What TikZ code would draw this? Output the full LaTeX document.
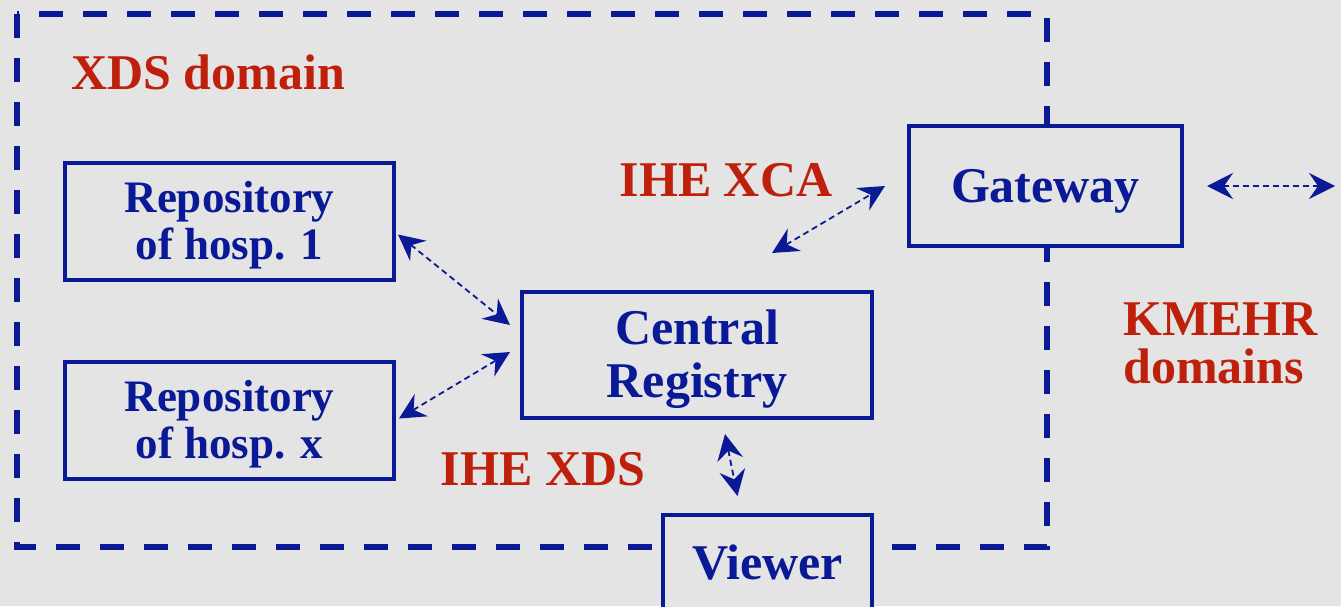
\documentclass[tikz,border=0pt]{standalone}
\usepackage{fontspec}
\setmainfont{Liberation Serif}
\usetikzlibrary{positioning,arrows.meta,calc}
\definecolor{palBlue}{HTML}{0A1A96}
\definecolor{palRed}{HTML}{BE200C}
\definecolor{palBack}{HTML}{E4E4E4}
\tikzset{
  sysbox/.style={draw=palBlue, fill=palBack, line width=4pt, text=palBlue,
                 align=center, inner sep=0pt,
                 font=\bfseries\fontsize{50}{53}\selectfont},
  repobox/.style={sysbox, minimum width=329pt, minimum height=117pt,
                  text depth=1.5pt, font=\bfseries\fontsize{45}{47}\selectfont},
  domlabel/.style={text=palRed, align=left,
                   font=\bfseries\fontsize{50}{48}\selectfont},
  domainframe/.style={draw=palBlue, line width=6pt,
                      dash pattern=on 24pt off 20pt},
  msgarrow/.style={{Stealth[length=26pt,width=26pt,inset=9pt]}-{Stealth[length=26pt,width=26pt,inset=9pt]},
                   palBlue, line width=1.8pt, dash pattern=on 6pt off 4pt},
}

\begin{document}
\begin{tikzpicture}[x=1pt, y=-1pt]
\def\xRepo{229.5}   % x-position for repository column
\def\yDomain{547}   % y-position for bottom of XDS domain

%% Background
\fill[palBack] (0,0) rectangle (1341,606);
\useasboundingbox (0,0) rectangle (1341,606);

%% XDS domain frame
\draw[domainframe] (17,14) rectangle (1047,\yDomain);

%% Systems
\node[repobox] (repo1) at (\xRepo, 221.5) {Repository\\of hosp. 1};
\node[repobox] (repox) at (\xRepo, 420.5) {Repository\\of hosp. x};
\node[sysbox, minimum width=350pt, minimum height=126pt, text depth=2pt] (central) at (697, 355) {Central\\Registry};
\node[sysbox, minimum width=273pt, minimum height=120pt, text depth=0pt] (gateway) at (1045.5, 186) {Gateway};
\node[sysbox, minimum width=209pt, minimum height=96pt] (viewer) at (767.5, 563) {Viewer};

%% Labels
\node[domlabel] (xdsdomain) at (208, 72) {XDS domain};
\node[domlabel] (ihexca) at (726, 180) {IHE XCA};
\node[domlabel] (ihexds) at (543, 469) {IHE XDS};
\node[domlabel, anchor=north west] (kmehr) at (1120, 299) {KMEHR\\domains};

%% Transactions
\coordinate (outside) at (1335, 186);
\draw[msgarrow] ([xshift=2, yshift=-13]repo1.east) -- ([xshift=-10, yshift=30]central.west);
\draw[msgarrow] ([xshift=3, yshift=2]repox.east) -- ([xshift=-10, yshift=3]central.west);
\draw[msgarrow] ([xshift=75, yshift=37]central.north) -- ([xshift=-22]gateway.west);
\draw[msgarrow] ([xshift=28, yshift=-14]central.south) -- ([xshift=-30, yshift=17]viewer.north);
\draw[msgarrow] ([xshift=23]gateway.east) -- (outside);
\end{tikzpicture}
\end{document}
